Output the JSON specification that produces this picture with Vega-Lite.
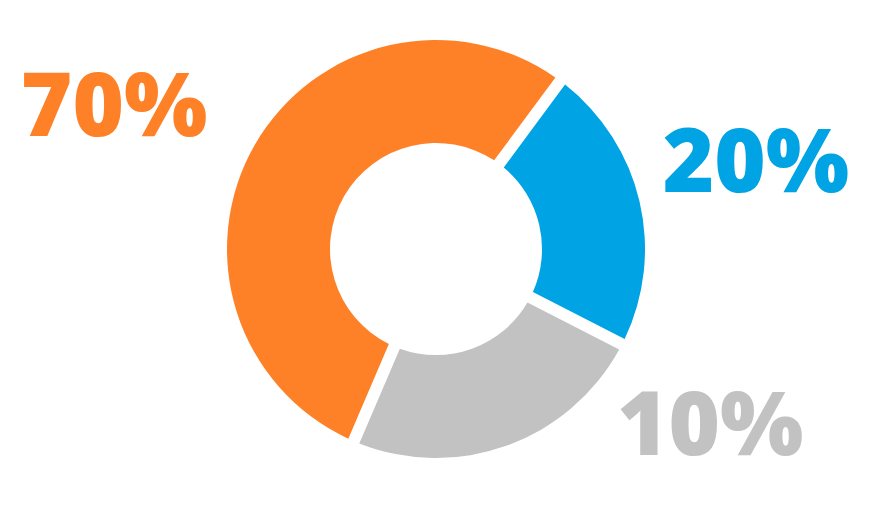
{
  "$schema": "https://vega.github.io/schema/vega-lite/v6.json",
  "width": 872,
  "height": 498,
  "autosize": "none",
  "padding": 0,
  "background": "white",
  "config": {"view": {"stroke": null}},
  "data": {
    "values": [
      {"label": "20%", "value": 22.4, "rank": 1},
      {"label": "10%", "value": 23.9, "rank": 2},
      {"label": "70%", "value": 53.7, "rank": 3}
    ]
  },
  "transform": [
    {"stack": "value", "groupby": [], "sort": [{"field": "rank", "order": "ascending"}], "as": ["v0", "v1"]}
  ],
  "encoding": {
    "theta": {"field": "v0", "type": "quantitative", "scale": {"domain": [0, 100], "range": [0.637, 6.920]}},
    "theta2": {"field": "v1"},
    "color": {
      "field": "label",
      "type": "nominal",
      "scale": {"domain": ["20%", "10%", "70%"], "range": ["#00A3E4", "#C2C2C2", "#FE8027"]},
      "legend": null
    }
  },
  "layer": [
    {
      "mark": {"type": "arc", "radius": 209, "innerRadius": 106, "padAngle": 0.051}
    },
    {
      "transform": [{"filter": "datum.label === '70%'"}],
      "mark": {"type": "text", "radius": 341, "thetaOffset": 1.503, "font": "Open Sans", "fontWeight": 800, "fontSize": 88, "align": "center", "baseline": "alphabetic"},
      "encoding": {"text": {"field": "label"}}
    },
    {
      "transform": [{"filter": "datum.label === '20%'"}],
      "mark": {"type": "text", "radius": 325, "thetaOffset": 0.757, "font": "Open Sans", "fontWeight": 800, "fontSize": 88, "align": "center", "baseline": "alphabetic"},
      "encoding": {"text": {"field": "label"}}
    },
    {
      "transform": [{"filter": "datum.label === '10%'"}],
      "mark": {"type": "text", "radius": 343, "thetaOffset": 0.171, "font": "Open Sans", "fontWeight": 800, "fontSize": 88, "align": "center", "baseline": "alphabetic"},
      "encoding": {"text": {"field": "label"}}
    }
  ]
}
